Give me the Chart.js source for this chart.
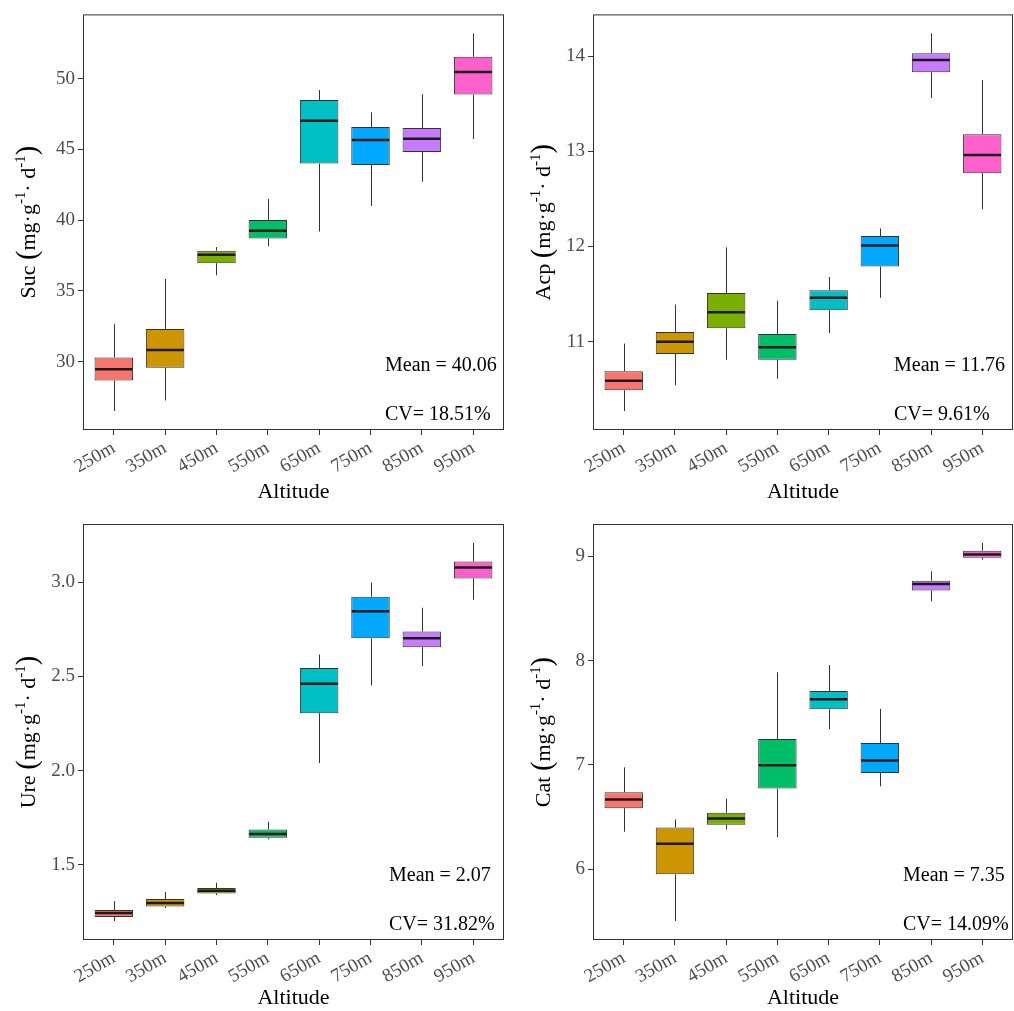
<!DOCTYPE html>
<html>
<head>
<meta charset="utf-8">
<script src="https://cdn.jsdelivr.net/npm/chart.js@4.4.0/dist/chart.umd.min.js"></script>
<style>
  html, body { margin: 0; padding: 0; background: #fff; }
  #wrap { position: relative; width: 1014px; height: 1011px; }
  canvas { position: absolute; }
</style>
</head>
<body>
<div id="wrap">
  <canvas id="sucChart" width="507" height="505" style="left:0;top:0"></canvas>
  <canvas id="acpChart" width="507" height="505" style="left:507px;top:0"></canvas>
  <canvas id="ureChart" width="507" height="506" style="left:0;top:505px"></canvas>
  <canvas id="catChart" width="507" height="506" style="left:507px;top:505px"></canvas>
</div>
<script>
const altitudes = ['250m', '350m', '450m', '550m', '650m', '750m', '850m', '950m'];
const boxColors = ['#F8766D', '#CD9600', '#7CAE00', '#00BE67', '#00BFC4', '#00A9FF', '#C77CFF', '#FF61CC'];

// Suc
const sucMin = [26.51, 27.26, 36.11, 38.15, 39.20, 41.01, 42.72, 45.74];
const sucQ1  = [28.67, 29.58, 36.96, 38.71, 44.00, 43.91, 44.82, 48.88];
const sucMed = [29.46, 30.82, 37.56, 39.25, 47.03, 45.67, 45.76, 50.47];
const sucQ3  = [30.30, 32.32, 37.85, 40.02, 48.50, 46.58, 46.51, 51.55];
const sucMax = [32.65, 35.85, 38.10, 41.50, 49.20, 47.63, 48.90, 53.21];
const sucTicks = [30, 35, 40, 45, 50];

// Acp
const acpMin = [10.27, 10.54, 10.81, 10.61, 11.09, 11.46, 13.56, 12.39];
const acpQ1  = [10.49, 10.87, 11.14, 10.81, 11.33, 11.79, 13.83, 12.77];
const acpMed = [10.59, 11.00, 11.31, 10.94, 11.46, 12.01, 13.96, 12.96];
const acpQ3  = [10.69, 11.10, 11.51, 11.08, 11.54, 12.11, 14.03, 13.18];
const acpMax = [10.98, 11.39, 11.99, 11.43, 11.68, 12.19, 14.24, 13.75];
const acpTicks = [11, 12, 13, 14];

// Ure
const ureMin = [1.202, 1.271, 1.340, 1.636, 2.040, 2.452, 2.555, 2.907];
const ureQ1  = [1.224, 1.280, 1.349, 1.644, 2.305, 2.702, 2.655, 3.019];
const ureMed = [1.245, 1.298, 1.363, 1.664, 2.461, 2.845, 2.702, 3.077];
const ureQ3  = [1.261, 1.319, 1.377, 1.688, 2.544, 2.923, 2.738, 3.109];
const ureMax = [1.308, 1.357, 1.405, 1.729, 2.616, 2.998, 2.864, 3.208];
const ureTicks = [1.5, 2.0, 2.5, 3.0];

// Cat
const catMin = [6.359, 5.503, 6.381, 6.308, 7.342, 6.795, 8.567, 8.965];
const catQ1  = [6.585, 5.952, 6.426, 6.773, 7.533, 6.922, 8.672, 8.984];
const catMed = [6.668, 6.245, 6.486, 6.996, 7.629, 7.043, 8.733, 9.016];
const catQ3  = [6.738, 6.400, 6.541, 7.247, 7.708, 7.209, 8.765, 9.051];
const catMax = [6.976, 6.477, 6.677, 7.886, 7.956, 7.536, 8.854, 9.127];
const catTicks = [6, 7, 8, 9];

const serif = 'Liberation Serif';
const tickGrey = '#4D4D4D';

// whiskers, medians, panel frame, notes and y title
const boxExtras = {
    id: 'boxExtras',
    afterDatasetsDraw(chart, args, o) {
        const { ctx, chartArea } = chart;
        const y = chart.scales.y;
        const meta = chart.getDatasetMeta(0);
        ctx.save();
        o.min.forEach((lo, i) => {
            const bar = meta.data[i];
            const px = Math.round(bar.x) + 0.5;
            const half = bar.width / 2;
            ctx.strokeStyle = '#333';
            ctx.lineWidth = 1;
            ctx.beginPath();
            ctx.moveTo(px, y.getPixelForValue(o.q3[i]));
            ctx.lineTo(px, y.getPixelForValue(o.max[i]));
            ctx.moveTo(px, y.getPixelForValue(o.q1[i]));
            ctx.lineTo(px, y.getPixelForValue(lo));
            ctx.stroke();
            const my = y.getPixelForValue(o.med[i]);
            ctx.strokeStyle = '#1a1a1a';
            ctx.lineWidth = 2.5;
            ctx.beginPath();
            ctx.moveTo(bar.x - half + 0.5, my);
            ctx.lineTo(bar.x + half - 0.5, my);
            ctx.stroke();
        });

        ctx.strokeStyle = '#333';
        ctx.lineWidth = 1;
        ctx.strokeRect(chartArea.left + 0.5, chartArea.top + 0.5, chartArea.width - 1, chartArea.height - 1);

        // notes
        ctx.fillStyle = '#000';
        ctx.font = '20px "' + serif + '"';
        ctx.textAlign = 'left';
        ctx.textBaseline = 'middle';
        const nx = chartArea.right - o.noteInset;
        ctx.fillText(o.notes[0], nx, chartArea.bottom - 64);
        ctx.fillText(o.notes[1], nx, chartArea.bottom - 15);

        // y title with superscripts
        const parts = [
            [o.name + ' ', 1, 0], ['(', 1.3, 0], ['mg·g', 1, 0], ['-1', 0.68, 1],
            ['· d', 1, 0], ['-1', 0.68, 1], [')', 1.3, 0]
        ];
        const base = 22;
        let total = 0;
        parts.forEach(p => {
            ctx.font = (base * p[1]) + 'px "' + serif + '"';
            total += ctx.measureText(p[0]).width;
        });
        ctx.translate(chartArea.left - o.titleGap, (chartArea.top + chartArea.bottom) / 2);
        ctx.rotate(-Math.PI / 2);
        let cx = -total / 2;
        parts.forEach(p => {
            ctx.font = (base * p[1]) + 'px "' + serif + '"';
            ctx.fillText(p[0], cx, p[2] ? -base * 0.38 : (p[1] > 1 ? -1 : 0));
            cx += ctx.measureText(p[0]).width;
        });
        ctx.restore();
    }
};

function makeChart(id, p) {
    const lo = Math.min(...p.min), hi = Math.max(...p.max);
    const pad = (hi - lo) * 0.05;
    new Chart(document.getElementById(id), {
        type: 'bar',
        data: {
            datasets: [{
                data: altitudes.map((a, i) => ({ x: i, y: [p.q1[i], p.q3[i]] })),
                backgroundColor: boxColors,
                borderColor: '#333',
                borderWidth: 1,
                borderSkipped: false,
                barPercentage: 0.75,
                categoryPercentage: 1
            }]
        },
        options: {
            responsive: false,
            animation: false,
            layout: { padding: p.padding },
            plugins: {
                legend: { display: false },
                tooltip: { enabled: false },
                boxExtras: p
            },
            scales: {
                x: {
                    type: 'linear',
                    min: -0.6,
                    max: 7.6,
                    offset: false,
                    afterBuildTicks(s) { s.ticks = altitudes.map((a, i) => ({ value: i })); },
                    afterFit(s) { s.height = p.xHeight; },
                    grid: { display: true, drawOnChartArea: false, offset: false, tickLength: 5, color: '#333' },
                    border: { display: false },
                    ticks: {
                        autoSkip: false, minRotation: 30, maxRotation: 30, padding: 2,
                        color: tickGrey, font: { family: serif, size: 19 },
                        callback: v => altitudes[v]
                    },
                    title: { display: true, text: 'Altitude', color: '#000', padding: 0, font: { family: serif, size: 22 } }
                },
                y: {
                    min: lo - pad,
                    max: hi + pad,
                    afterFit(s) { s.width = p.yWidth; },
                    afterBuildTicks(s) { s.ticks = p.ticks.map(v => ({ value: v })); },
                    grid: { display: true, drawOnChartArea: false, tickLength: 5, color: '#333' },
                    border: { display: false },
                    ticks: {
                        padding: 3, color: tickGrey, font: { family: serif, size: 19 },
                        callback: v => p.fmt(v)
                    }
                }
            }
        },
        plugins: [boxExtras]
    });
}

makeChart('sucChart', {
    name: 'Suc', min: sucMin, q1: sucQ1, med: sucMed, q3: sucQ3, max: sucMax, ticks: sucTicks,
    fmt: v => String(v), notes: ['Mean = 40.06', 'CV= 18.51%'],
    padding: { top: 12, right: 3, left: 0, bottom: 0 }, xHeight: 75, yWidth: 83, titleGap: 54, noteInset: 119
});
makeChart('acpChart', {
    name: 'Acp', min: acpMin, q1: acpQ1, med: acpMed, q3: acpQ3, max: acpMax, ticks: acpTicks,
    fmt: v => String(v), notes: ['Mean = 11.76', 'CV= 9.61%'],
    padding: { top: 12, right: 1, left: 0, bottom: 0 }, xHeight: 75, yWidth: 86, titleGap: 49, noteInset: 119
});
makeChart('ureChart', {
    name: 'Ure', min: ureMin, q1: ureQ1, med: ureMed, q3: ureQ3, max: ureMax, ticks: ureTicks,
    fmt: v => v.toFixed(1), notes: ['Mean = 2.07', 'CV= 31.82%'],
    padding: { top: 19, right: 3, left: 0, bottom: 0 }, xHeight: 71, yWidth: 83, titleGap: 54, noteInset: 115
});
makeChart('catChart', {
    name: 'Cat', min: catMin, q1: catQ1, med: catMed, q3: catQ3, max: catMax, ticks: catTicks,
    fmt: v => String(v), notes: ['Mean = 7.35', 'CV= 14.09%'],
    padding: { top: 19, right: 1, left: 0, bottom: 0 }, xHeight: 71, yWidth: 86, titleGap: 49, noteInset: 110
});
</script>
</body>
</html>
